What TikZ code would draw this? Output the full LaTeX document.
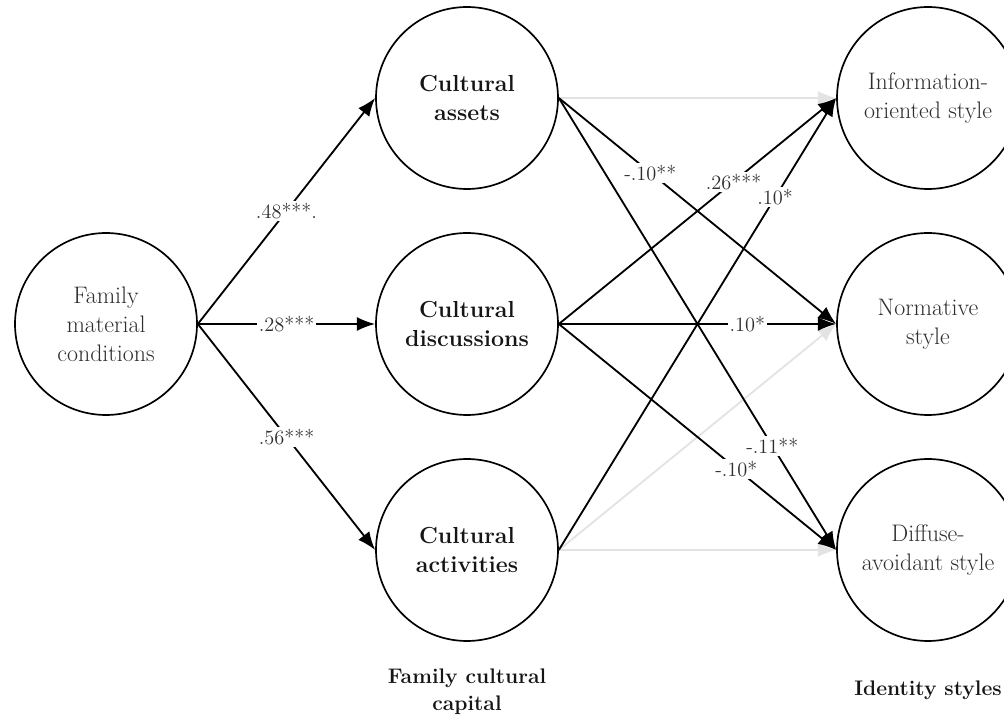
\documentclass[tikz,border=0pt]{standalone}
\usepackage{tikz}
\usetikzlibrary{arrows.meta,positioning}
\definecolor{ink}{HTML}{151515}
\definecolor{txt}{HTML}{2E2E2E}
\definecolor{faint}{HTML}{E3E3E3}

\begin{document}
\begin{tikzpicture}[on grid,
    var/.style={circle,draw=black,line width=1.2pt,minimum size=4.55cm,
      align=center,text=txt,font=\fontsize{17}{20.5}\selectfont},
    capvar/.style={var,text=ink,font=\fontsize{16.5}{20.5}\selectfont\bfseries},
    effect/.style={line width=1.3pt,-{Latex[length=13pt,width=10pt]}},
    noeffect/.style={effect,draw=faint,color=faint},
    coef/.style={fill=white,inner sep=1.5pt,text=txt,font=\fontsize{14.5}{16}\selectfont},
    heading/.style={align=center,text=ink,font=\fontsize{15}{19}\selectfont\bfseries}]
  \useasboundingbox (0,0) rectangle (25.1,-18.05);
  \node[var] (fam) at (2.65,-8.1) {Family\\material\\conditions};
  \node[capvar,right=9.025cm of fam] (disc) {Cultural\\discussions};
  \node[capvar,above=5.65cm of disc] (assets) {Cultural\\assets};
  \node[capvar,below=5.65cm of disc] (activ) {Cultural\\activities};
  \node[var,right=11.525cm of disc] (norm) {Normative\\style};
  \node[var,above=5.65cm of norm] (info) {Information-\\oriented style};
  \node[var,below=5.65cm of norm] (diff) {Diffuse-\\avoidant style};
  \node[heading,below=3.55cm of activ] (fcc) {Family cultural\\capital};
  \node[heading,below=3.5cm of diff] (ids) {Identity styles};

  % non-significant paths
  \draw[noeffect] (assets.east) -- (info.west);
  \draw[noeffect] (activ.east) -- (norm.west);
  \draw[noeffect] (activ.east) -- (diff.west);

  % material conditions -> cultural capital
  \draw[effect] (fam.east) -- node[coef] {.48***.} (assets.west);
  \draw[effect] (fam.east) -- node[coef] {.28***} (disc.west);
  \draw[effect] (fam.east) -- node[coef] {.56***} (activ.west);

  % cultural capital -> identity styles
  \draw[effect] (assets.east) -- node[coef,pos=.33] {-.10**} (norm.west);
  \draw[effect] (assets.east) -- node[coef,pos=.77] {-.11**} (diff.west);
  \draw[effect] (disc.east) -- node[coef,pos=.63] {.26***} (info.west);
  \draw[effect] (disc.east) -- node[coef,pos=.68] {.10*} (norm.west);
  \draw[effect] (disc.east) -- node[coef,pos=.64] {-.10*} (diff.west);
  \draw[effect] (activ.east) -- node[coef,pos=.78] {.10*} (info.west);
\end{tikzpicture}
\end{document}
